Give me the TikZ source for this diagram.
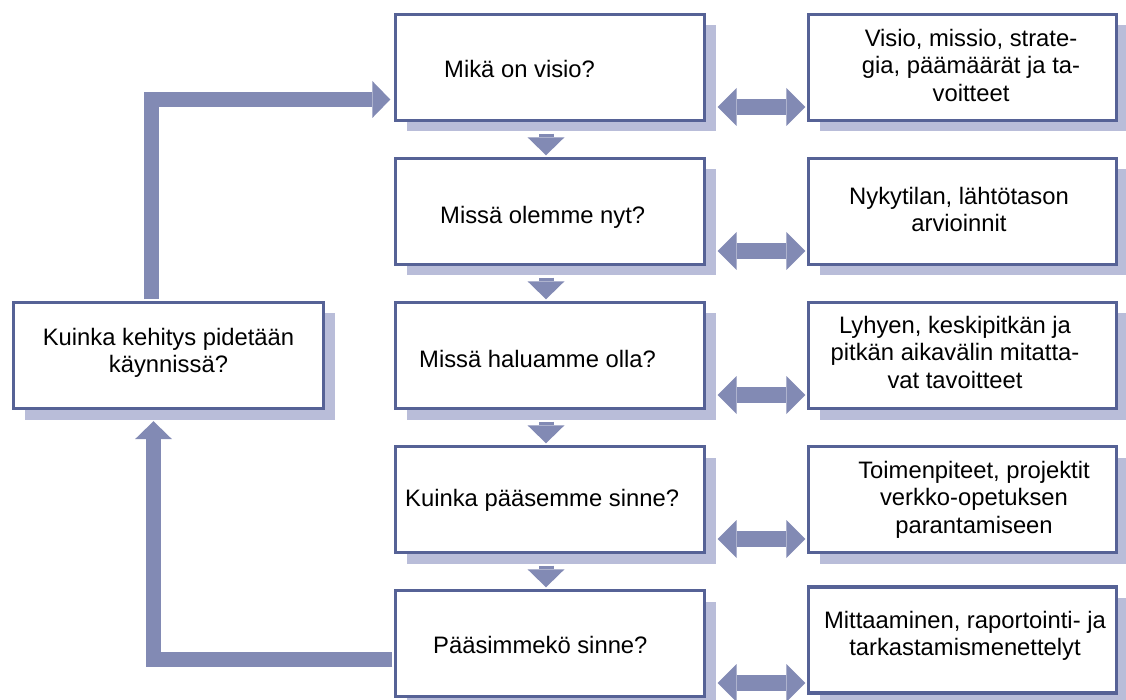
\documentclass[tikz,border=0pt]{standalone}
\usepackage{fontspec}
\setmainfont{Liberation Sans}
\usetikzlibrary{arrows.meta,calc,shadows}
\definecolor{bordercol}{RGB}{86,98,150}
\definecolor{shadowcol}{RGB}{185,189,217}
\definecolor{arrowcol}{RGB}{130,138,180}
\newcommand\mystrut{\rule[-6pt]{0pt}{20pt}}
\begin{document}
\begin{tikzpicture}[x=1pt,y=-1pt,
  box/.style={rectangle, draw=bordercol, line width=3.4pt, fill=white, inner sep=0pt,
    drop shadow={shadow xshift=11pt, shadow yshift=-11pt, fill=shadowcol, opacity=1}},
  midbox/.style={box, minimum width=309pt, minimum height=106pt},
  sidebox/.style={box, minimum width=308pt, minimum height=106pt},
  leftbox/.style={box, minimum width=310pt, minimum height=106pt},
  txt/.style={font=\fontsize{23.8pt}{27.5pt}\selectfont, inner sep=0pt, text=black},
  fat/.style={draw=arrowcol, line width=15pt, line join=miter,
    -{Triangle[width=37pt,length=18pt,line width=0pt]}},
  dbl/.style={draw=arrowcol, line width=16pt,
    {Triangle[width=38pt,length=19pt,line width=0pt]}-{Triangle[width=38pt,length=19pt,line width=0pt]}},
]
\useasboundingbox (0,0) rectangle (1126,700);

% middle column
\node[midbox] (m1) at (550,67.5) {};
\node[midbox] (m2) at (550,211.5) {};
\node[midbox] (m3) at (550,355.5) {};
\node[midbox] (m4) at (550,499.5) {};
\node[midbox] (m5) at (550,643.5) {};

% right column
\node[sidebox] (r1) at (962.5,67.5) {};
\node[sidebox] (r2) at (962.5,211.5) {};
\node[sidebox] (r3) at (962.5,355.5) {};
\node[sidebox] (r4) at (962.5,499.5) {};
\node[sidebox] (r5) at (962.5,640) {};

% left box
\node[leftbox] (kb) at (168.5,355.5) {};

% texts
\node[txt, anchor=base west] (t1) at (444,78) {Mikä on visio?};
\node[txt, anchor=base west] (t2) at (440,224) {Missä olemme nyt?};
\node[txt, anchor=base west] (t3) at (419,367) {Missä haluamme olla?};
\node[txt, anchor=base west] (t4) at (405,506) {Kuinka pääsemme sinne?};
\node[txt, anchor=base west] (t5) at (433,653) {Pääsimmekö sinne?};

\node[txt, align=center, anchor=north] (s1) at (971,29)
  {\mystrut Visio, missio, strate-\\gia, päämäärät ja ta-\\voitteet\mystrut};
\node[txt, align=center, anchor=north] (s2) at (959,187)
  {\mystrut Nykytilan, lähtötason\\arvioinnit\mystrut};
\node[txt, align=center, anchor=north] (s3) at (955,316)
  {\mystrut Lyhyen, keskipitkän ja\\pitkän aikavälin mitatta-\\vat tavoitteet\mystrut};
\node[txt, align=center, anchor=north] (s4) at (974,461)
  {\mystrut Toimenpiteet, projektit\\verkko-opetuksen\\parantamiseen\mystrut};
\node[txt, align=center, anchor=north] (s5) at (965,611)
  {\mystrut Mittaaminen, raportointi- ja\\tarkastamismenettelyt\mystrut};
\node[txt, align=center, anchor=north] (kt) at (168.5,328)
  {\mystrut Kuinka kehitys pidetään\\käynnissä?\mystrut};

% down arrows
\draw[fat] ($(m1.south)+(-4,11.5)$) -- ($(m2.north)+(-4,-1.5)$);
\draw[fat] ($(m2.south)+(-4,11.5)$) -- ($(m3.north)+(-4,-1.5)$);
\draw[fat] ($(m3.south)+(-4,11.5)$) -- ($(m4.north)+(-4,-1.5)$);
\draw[fat] ($(m4.south)+(-4,11.5)$) -- ($(m5.north)+(-4,-1.5)$);

% double arrows
\draw[dbl] ($(m1.east)+(11.5,39.5)$) -- ($(m1.east -| r1.west)+(-1.5,39.5)$);
\draw[dbl] ($(m2.east)+(11.5,39.5)$) -- ($(m2.east -| r2.west)+(-1.5,39.5)$);
\draw[dbl] ($(m3.east)+(11.5,39.5)$) -- ($(m3.east -| r3.west)+(-1.5,39.5)$);
\draw[dbl] ($(m4.east)+(11.5,39.5)$) -- ($(m4.east -| r4.west)+(-1.5,39.5)$);
\draw[dbl] ($(m5.east)+(11.5,39.5)$) -- ($(m5.east -| r5.west)+(-1.5,39.5)$);

% loop arrows
\draw[fat] ($(kb.north)+(-17.5,-1.5)$) |- ($(m1.west)+(-3.5,32)$);
\draw[fat] ($(m5.west)+(-1.5,15.5)$) -| ($(kb.south)+(-15,11)$);
\end{tikzpicture}
\end{document}
